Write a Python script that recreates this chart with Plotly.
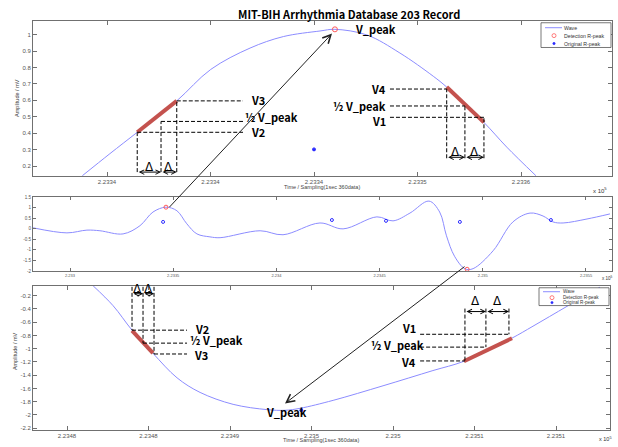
import plotly.graph_objects as go

W, H = 618, 447
def PX(x): return x / W
def PY(y): return 1 - y / H

# ---------------- data ----------------
WAVE_COLOR = '#8c8cff'
RED_SEG = 'rgb(196,82,78)'

# top panel (zoom on first R-peak)
top_x = [223333.81, 223335.14, 223336.46, 223338.37, 223340.01, 223341.91, 223343.52,
         223345.29, 223346.01, 223347.55, 223349.15, 223350.76, 223351.41, 223353.21,
         223354.31, 223355.72]
top_y = [0.142, 0.276, 0.406, 0.597, 0.788, 0.918, 0.988, 1.022, 1.032, 0.998, 0.888,
         0.747, 0.681, 0.466, 0.316, 0.142]
top_det_x, top_det_y = [223346.01], [1.032]
top_org_x, top_org_y = [223345.0], [0.302]
top_seg1_x, top_seg1_y = [223336.46, 223338.37], [0.406, 0.597]
top_seg2_x, top_seg2_y = [223351.41, 223353.21], [0.681, 0.466]
top_xticks = [223335, 223340, 223345, 223350, 223355]
top_xlabels = ['2.2334', '2.2334', '2.2334', '2.2335', '2.2336']
top_yticks = [0.2, 0.3, 0.4, 0.5, 0.6, 0.7, 0.8, 0.9, 1.0]
top_ylabels = ['0.2', '0.3', '0.4', '0.5', '0.6', '0.7', '0.8', '0.9', '1']

# middle panel (overview)
mid_x = [223282.1, 223298.5, 223308.2, 223314.5, 223325.7, 223333.9, 223340.2, 223346.5,
         223351.8, 223356.6, 223361.5, 223367.8, 223372.7, 223392.1, 223403.2, 223421.1,
         223432.3, 223448.7, 223456.5, 223464.7, 223473.9, 223479.1, 223482.4, 223486.3,
         223491.4, 223495.3, 223505.0, 223514.6, 223522.9, 223529.2, 223534.0, 223538.9,
         223550.5, 223561.6]
mid_y = [0.05, -0.19, -0.06, -0.09, -0.24, 0.15, 0.80, 1.03, 0.86, 0.24, -0.24, -0.38,
         -0.42, -0.09, -0.28, 0.28, 0.0, 0.57, 0.38, 0.75, 1.32, 0.80, -0.33, -1.30,
         -1.90, -1.89, -1.04, 0.33, 0.75, 0.61, 0.33, 0.28, 0.47, 0.71]
mid_det_x, mid_det_y = [223346.5, 223492.4], [1.03, -1.92]
mid_org_x = [223345.1, 223426.9, 223453.1, 223488.9, 223533.0]
mid_org_y = [0.33, 0.42, 0.38, 0.33, 0.42]
mid_xticks = [223300, 223350, 223400, 223450, 223500, 223550]
mid_xlabels = ['2.233', '2.2335', '2.234', '2.2345', '2.235', '2.2355']
mid_yticks = [-2, -1.5, -1, -0.5, 0, 0.5, 1, 1.5]
mid_ylabels = ['-2', '-1.5', '-1', '-0.5', '0', '0.5', '1', '1.5']

# bottom panel (zoom on the inverted R-peak)
bot_x = [223479.28, 223480.26, 223481.19, 223482.22, 223483.40, 223484.53, 223486.15,
         223487.82, 223488.70, 223489.44, 223491.06, 223493.51, 223495.96, 223497.48,
         223499.84, 223500.87, 223502.54, 223504.16]
bot_y = [-0.05, -0.35, -0.72, -1.07, -1.44, -1.66, -1.84, -1.92, -1.93, -1.90, -1.78,
         -1.56, -1.33, -1.19, -0.84, -0.66, -0.36, -0.07]
bot_org_x, bot_org_y = [223489.5], [-1.93]
bot_seg1_x, bot_seg1_y = [223481.19, 223482.22], [-0.727, -1.066]
bot_seg2_x, bot_seg2_y = [223497.48, 223499.84], [-1.19, -0.842]
bot_xticks = [223478, 223482, 223486, 223490, 223494, 223498, 223502]
bot_xlabels = ['2.2348', '2.2348', '2.2349', '2.235', '2.235', '2.2351', '2.2351']
bot_yticks = [-2.2, -2.0, -1.8, -1.6, -1.4, -1.2, -1.0, -0.8, -0.6, -0.4, -0.2]
bot_ylabels = ['-2.2', '-2', '-1.8', '-1.6', '-1.4', '-1.2', '-1', '-0.8', '-0.6', '-0.4', '-0.2']

# guide lines (levels V1..V4, half peak) and delta markers
tl_vx = [223336.46, 223337.61, 223338.37]
tl_lv = [0.406, 0.472, 0.597]           # V2, 1/2 V_peak, V3
tl_bottom, tl_hend, tl_arrow_y = 0.164, 223341.57, 0.164
tr_vx = [223351.41, 223352.29, 223353.21]
tr_lv = [0.669, 0.566, 0.497]           # V4, 1/2 V_peak, V1
tr_bottom, tr_hstart, tr_arrow_y = 0.248, 223348.67, 0.254
bl_vx = [223481.19, 223481.73, 223482.27]
bl_lv = [-0.72, -0.916, -1.08]          # V2, 1/2 V_peak, V3
bl_top, bl_hend, bl_arrow_y = -0.066, 223483.89, -0.17
br_vx = [223497.53, 223498.56, 223499.69]
br_lv = [-1.185, -0.976, -0.782]        # V4, 1/2 V_peak, V1
br_top, br_hstart, br_arrow_y = -0.394, 223495.33, -0.439

fig = go.Figure()

def wave(x, y, xa, ya):
    fig.add_trace(go.Scatter(x=x, y=y, mode='lines', line=dict(color=WAVE_COLOR, width=1, shape='spline'),
                             xaxis=xa, yaxis=ya, showlegend=False, hoverinfo='skip'))

def seg(x, y, xa, ya):
    fig.add_trace(go.Scatter(x=x, y=y, mode='lines', line=dict(color=RED_SEG, width=4),
                             xaxis=xa, yaxis=ya, showlegend=False, hoverinfo='skip'))

def det(x, y, xa, ya, size=5):
    fig.add_trace(go.Scatter(x=x, y=y, mode='markers',
                             marker=dict(symbol='circle-open', size=size, color='#ff5a5a', line=dict(width=1)),
                             xaxis=xa, yaxis=ya, showlegend=False, hoverinfo='skip'))

def org(x, y, xa, ya, symbol='circle', size=3):
    fig.add_trace(go.Scatter(x=x, y=y, mode='markers',
                             marker=dict(symbol=symbol, size=size, color='#2b2bff', line=dict(width=1, color='#2b2bff')),
                             xaxis=xa, yaxis=ya, showlegend=False, hoverinfo='skip'))

wave(top_x, top_y, 'x', 'y')
seg(top_seg1_x, top_seg1_y, 'x', 'y')
seg(top_seg2_x, top_seg2_y, 'x', 'y')
det(top_det_x, top_det_y, 'x', 'y')
org(top_org_x, top_org_y, 'x', 'y')

wave(mid_x, mid_y, 'x2', 'y2')
det(mid_det_x, mid_det_y, 'x2', 'y2', size=4)
org(mid_org_x, mid_org_y, 'x2', 'y2', symbol='circle-open', size=3)

wave(bot_x, bot_y, 'x3', 'y3')
seg(bot_seg1_x, bot_seg1_y, 'x3', 'y3')
seg(bot_seg2_x, bot_seg2_y, 'x3', 'y3')
org(bot_org_x, bot_org_y, 'x3', 'y3')

shapes = []
annots = []
DASH = '4px,2px'

def dline(x0, y0, x1, y1, xr, yr):
    shapes.append(dict(type='line', x0=x0, y0=y0, x1=x1, y1=y1, xref=xr, yref=yr,
                       line=dict(color='black', width=1, dash=DASH)))

for vx, lv in zip(tl_vx, tl_lv):
    dline(vx, tl_bottom, vx, lv, 'x', 'y')
    dline(vx, lv, tl_hend, lv, 'x', 'y')
for vx, lv in zip(tr_vx, tr_lv):
    dline(vx, tr_bottom, vx, lv, 'x', 'y')
    dline(tr_hstart, lv, vx, lv, 'x', 'y')
for vx, lv in zip(bl_vx, bl_lv):
    dline(vx, bl_top, vx, lv, 'x3', 'y3')
    dline(vx, lv, bl_hend, lv, 'x3', 'y3')
for vx, lv in zip(br_vx, br_lv):
    dline(vx, br_top, vx, lv, 'x3', 'y3')
    dline(br_hstart, lv, vx, lv, 'x3', 'y3')

LBL = dict(family='Noto Sans CJK KR', size=11, color='black')

def label(text, x, y, xr, yr, anchor):
    annots.append(dict(text='<b>' + text + '</b>', x=x, y=y, xref=xr, yref=yr, showarrow=False,
                       xanchor=anchor, yanchor='middle', font=LBL, borderpad=0))

label('V3', 223341.91, 0.60, 'x', 'y', 'left')
label('½ V_peak', 223341.62, 0.50, 'x', 'y', 'left')
label('V2', 223341.91, 0.405, 'x', 'y', 'left')
label('V4', 223348.53, 0.669, 'x', 'y', 'right')
label('½ V_peak', 223348.53, 0.567, 'x', 'y', 'right')
label('V1', 223348.53, 0.477, 'x', 'y', 'right')
label('V_peak', 223346.93, 1.036, 'x', 'y', 'left')
label('V2', 223484.23, -0.70, 'x3', 'y3', 'left')
label('½ V_peak', 223483.99, -0.87, 'x3', 'y3', 'left')
label('V3', 223484.18, -1.09, 'x3', 'y3', 'left')
label('V1', 223495.18, -0.69, 'x3', 'y3', 'right')
label('½ V_peak', 223495.57, -0.946, 'x3', 'y3', 'right')
label('V4', 223495.18, -1.20, 'x3', 'y3', 'right')
label('V_peak', 223487.72, -1.95, 'x3', 'y3', 'left')

def darrow(xa, xb, y, xr, yr):
    annots.append(dict(text='', x=xb, y=y, ax=xa, ay=y, xref=xr, yref=yr, axref=xr, ayref=yr,
                       showarrow=True, arrowside='end+start', arrowhead=5, startarrowhead=5,
                       arrowsize=0.9, startarrowsize=0.9, arrowwidth=1, arrowcolor='black',
                       standoff=0, startstandoff=0))

def delta(x, y, xr, yr, ys=0):
    annots.append(dict(text='Δ', x=x, y=y, xref=xr, yref=yr, showarrow=False, yanchor='bottom',
                       yshift=ys, font=dict(family='DejaVu Sans', size=12, color='black')))

for vx, y, xr, yr, ys in [(tl_vx, tl_arrow_y, 'x', 'y', -4), (tr_vx, tr_arrow_y, 'x', 'y', -4),
                          (bl_vx, bl_arrow_y, 'x3', 'y3', -4), (br_vx, br_arrow_y, 'x3', 'y3', 2)]:
    for a, b in [(vx[0], vx[1]), (vx[1], vx[2])]:
        darrow(a, b, y, xr, yr)
        delta((a + b) / 2, y, xr, yr, ys)

# cross-panel pointers (tail offsets in pixels)
annots.append(dict(text='', x=223345.87, y=1.006, xref='x', yref='y', ax=-164, ay=175,
                   showarrow=True, arrowhead=5, arrowsize=1.6, arrowwidth=1, arrowcolor='#222'))
annots.append(dict(text='', x=223488.70, y=-1.827, xref='x3', yref='y3', ax=181, ay=-138,
                   showarrow=True, arrowhead=5, arrowsize=1.6, arrowwidth=1, arrowcolor='#222'))

# titles and axis titles
annots.append(dict(text='<b>MIT-BIH Arrhythmia Database 203 Record</b>', x=PX(349), y=PY(12),
                   xref='paper', yref='paper', showarrow=False, xanchor='center', yanchor='middle',
                   font=dict(family='Noto Sans CJK KR', size=11, color='black')))
SMALL = dict(family='Liberation Sans', size=5.5, color='#444')
for (t, x, y, ang) in [('Time / Sampling(1sec 360data)', 322, 187, 0),
                       ('Time / Sampling(1sec 360data)', 321, 443, 0),
                       ('Amplitude / mV', 17, 97, -90),
                       ('Amplitude / mV', 15, 353, -90)]:
    annots.append(dict(text=t, x=PX(x), y=PY(y), xref='paper', yref='paper', showarrow=False,
                       xanchor='center', yanchor='middle', textangle=ang, font=SMALL))
for (x, y, s) in [(600, 190, 6), (605, 442, 5.5), (607, 279, 4.5)]:
    annots.append(dict(text='x 10<sup>5</sup>', x=PX(x), y=PY(y), xref='paper', yref='paper',
                       xanchor='center', yanchor='middle',
                       showarrow=False, font=dict(family='Liberation Sans', size=s, color='#333')))

# manual legends
def legend_box(x0, x1, y0, y1, rows, lx0, lx1, mx, tx, fs):
    shapes.append(dict(type='rect', x0=PX(x0), x1=PX(x1), y0=PY(y1), y1=PY(y0), xref='paper', yref='paper',
                       line=dict(color='#555', width=0.8), fillcolor='white', layer='above'))
    r0, r1, r2 = rows
    shapes.append(dict(type='line', x0=PX(lx0), x1=PX(lx1), y0=PY(r0), y1=PY(r0), xref='paper', yref='paper',
                       line=dict(color=WAVE_COLOR, width=1)))
    shapes.append(dict(type='circle', x0=PX(mx - 2), x1=PX(mx + 2), y0=PY(r1 + 2), y1=PY(r1 - 2),
                       xref='paper', yref='paper', line=dict(color='#ff5a5a', width=0.8)))
    shapes.append(dict(type='circle', x0=PX(mx - 1.2), x1=PX(mx + 1.2), y0=PY(r2 + 1.2), y1=PY(r2 - 1.2),
                       xref='paper', yref='paper', line=dict(color='#2b2bff', width=0.5), fillcolor='#2b2bff'))
    for t, r in zip(['Wave', 'Detection R-peak', 'Original R-peak'], rows):
        annots.append(dict(text=t, x=PX(tx), y=PY(r), xref='paper', yref='paper', showarrow=False,
                           xanchor='left', yanchor='middle',
                           font=dict(family='Liberation Sans', size=fs, color='#333'), borderpad=0))

legend_box(541, 611, 21, 46, (26, 34, 42), 545, 562, 554, 563, 5.2)
legend_box(539, 609, 289, 307, (293, 299, 304), 543, 560, 552, 562, 4.6)

def axstyle(ticks, labels, rng, dom, anchor, fs=6, tl=4):
    return dict(range=rng, domain=dom, anchor=anchor, tickmode='array', tickvals=ticks, ticktext=labels,
                showline=True, linecolor='#707070', linewidth=1, mirror='ticks', ticks='inside',
                ticklen=tl, tickcolor='#707070', tickfont=dict(family='Liberation Sans', size=fs, color='#555'),
                showgrid=False, zeroline=False)

fig.update_layout(
    width=W, height=H, margin=dict(l=0, r=0, t=0, b=0),
    paper_bgcolor='white', plot_bgcolor='white', showlegend=False,
    xaxis=axstyle(top_xticks, top_xlabels, [223331.425, 223359.396], [PX(33), PX(612)], 'y'),
    yaxis=axstyle(top_yticks, top_ylabels, [0.14, 1.084], [PY(176), PY(19)], 'x'),
    xaxis2=axstyle(mid_xticks, mid_xlabels, [223282.07, 223562.6], [PX(33), PX(612)], 'y2', fs=4, tl=3),
    yaxis2=axstyle(mid_yticks, mid_ylabels, [-2.0, 1.5], [PY(272), PY(197.5)], 'x2', fs=4.5, tl=3),
    xaxis3=axstyle(bot_xticks, bot_xlabels, [223476.33, 223504.65], [PX(33), PX(610)], 'y3'),
    yaxis3=axstyle(bot_yticks, bot_ylabels, [-2.23, -0.05], [PY(433), PY(287)], 'x3'),
    shapes=shapes, annotations=annots,
)

fig.write_html('out.html', config={'displayModeBar': False},
               post_script="document.body.style.margin='0';document.body.style.overflow='hidden';")
